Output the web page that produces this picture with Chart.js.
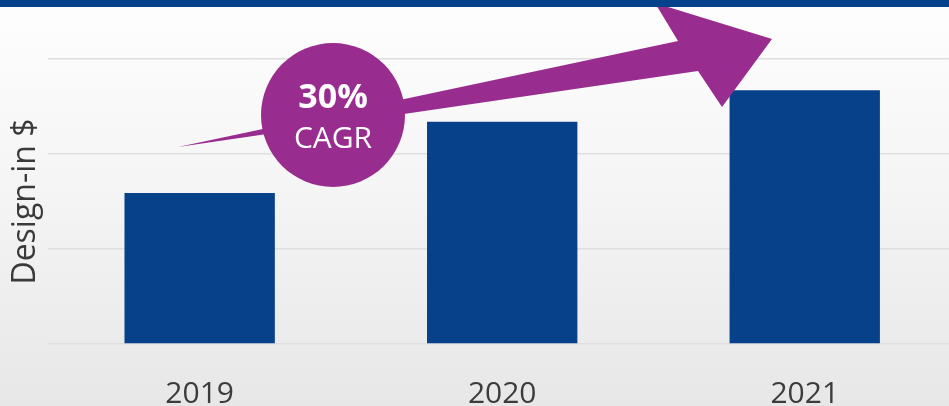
<!DOCTYPE html>
<html>
<head>
<meta charset="utf-8">
<script src="https://cdn.jsdelivr.net/npm/chart.js@4"></script>
<style>
  html, body { margin: 0; padding: 0; overflow: hidden; width: 949px; height: 406px; }
  body { background: linear-gradient(to bottom, #fefefe 0%, #f4f4f4 50%, #e7e7e7 100%); position: relative; }
  .band { position: absolute; left: 0; top: 0; width: 949px; height: 7px; background: #06418b; z-index: 2; }
  canvas { position: absolute; left: 0; top: 0; }
</style>
</head>
<body>
<div class="band"></div>
<canvas id="chart" width="956" height="406"></canvas>
<script>
const years = ['2019', '2020', '2021']
const designIn = [1.59, 2.34, 2.67]
const yTicks = [0, 1, 2, 3]

const barBlue = '#06418a'
const purple = '#992d8f'

// CAGR arrow and bubble on top of the bars
const cagrArrow = {
    id: 'cagrArrow',
    afterDraw(chart) {
        const c = chart.ctx
        c.save()
        c.fillStyle = purple
        c.beginPath()
        c.moveTo(178, 147)
        c.lineTo(678, 41)
        c.lineTo(655, 3)
        c.lineTo(772, 39)
        c.lineTo(722, 107)
        c.lineTo(698, 71)
        c.closePath()
        c.fill()

        c.beginPath()
        c.arc(333, 115, 72, 0, Math.PI * 2)
        c.fill()

        c.fillStyle = '#ffffff'
        c.textAlign = 'center'
        c.textBaseline = 'middle'
        c.font = 'bold 34px "Open Sans", "Noto Sans", sans-serif'
        c.fillText('30%', 333, 98)
        c.font = '30px "Open Sans", "Noto Sans", sans-serif'
        c.fillText('CAGR', 333, 139)
        c.restore()
    }
}

var ctx = document.getElementById('chart').getContext('2d')

var chart = new Chart(ctx, {
    type: 'bar',
    data: {
        labels: years,
        datasets: [{
            data: designIn,
            backgroundColor: barBlue,
            borderWidth: 0,
            barPercentage: 0.497,
            categoryPercentage: 1
        }]
    },
    options: {
        responsive: false,
        animation: false,
        layout: { padding: { top: 59, right: 0, bottom: 0, left: 0 } },
        plugins: {
            legend: { display: false },
            tooltip: { enabled: false }
        },
        scales: {
            x: {
                grid: { display: false, drawTicks: false },
                border: { display: false },
                afterFit: (axis) => { axis.height = 62 },
                ticks: {
                    color: '#3c3c3c',
                    padding: 35,
                    font: { family: '"Open Sans", "Noto Sans", sans-serif', size: 30, lineHeight: 1.0 }
                }
            },
            y: {
                min: 0,
                max: 3,
                afterBuildTicks: (axis) => { axis.ticks = yTicks.map(v => ({ value: v })) },
                grid: { color: '#dedede', lineWidth: 1.5, drawTicks: false },
                border: { display: false },
                ticks: { display: false },
                title: {
                    display: true,
                    text: 'Design-in $',
                    color: '#3a3a3a',
                    padding: { top: 7, bottom: 3 },
                    font: { family: '"Open Sans", "Noto Sans", sans-serif', size: 32, lineHeight: 1.2 }
                }
            }
        }
    },
    plugins: [cagrArrow]
})
</script>
</body>
</html>
